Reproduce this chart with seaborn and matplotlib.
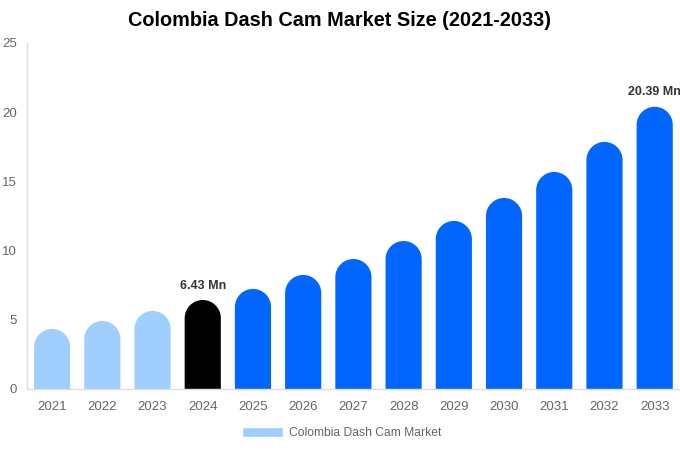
import matplotlib
matplotlib.use("Agg")
import matplotlib.pyplot as plt
import seaborn as sns
import pandas as pd
from matplotlib.path import Path
from matplotlib.patches import PathPatch, Patch

years = ["2021", "2022", "2023", "2024", "2025", "2026", "2027",
         "2028", "2029", "2030", "2031", "2032", "2033"]
values = [4.34, 4.91, 5.64, 6.43, 7.23, 8.24, 9.39, 10.69, 12.14, 13.8, 15.68, 17.85, 20.39]
colors = ["#a0cfff"] * 3 + ["#000000"] + ["#0066ff"] * 9
labeled = {"2024": "6.43 Mn", "2033": "20.39 Mn"}

df = pd.DataFrame({"year": years, "value": values})

sns.set_style("white")
plt.rcParams["font.family"] = ["Liberation Sans", "DejaVu Sans"]

fig = plt.figure(figsize=(6.8, 4.5), dpi=100)
ax = fig.add_axes([0.0397, 0.1356, 0.96, 0.769])

sns.barplot(data=df, x="year", y="value", hue="year", palette=colors,
            width=0.72, legend=False, ax=ax, saturation=1)
ax.set_ylim(0, 25)
ax.set_xlim(-0.5, len(years) - 0.5)

# turn each bar into a rounded-top bar
fig.canvas.draw()
ppu_x = ax.transData.transform((1, 0))[0] - ax.transData.transform((0, 0))[0]
ppu_y = ax.transData.transform((0, 1))[1] - ax.transData.transform((0, 0))[1]
k = 0.5523
for p in list(ax.patches):
    x0, w, h = p.get_x(), p.get_width(), p.get_height()
    rx = w / 2
    ry = rx * ppu_x / ppu_y
    x1, xc, top = x0 + w, x0 + rx, h
    yb = top - ry
    verts = [(x0, 0), (x1, 0), (x1, yb),
             (x1, yb + k * ry), (xc + k * rx, top), (xc, top),
             (xc - k * rx, top), (x0, yb + k * ry), (x0, yb),
             (x0, 0)]
    codes = [Path.MOVETO, Path.LINETO, Path.LINETO,
             Path.CURVE4, Path.CURVE4, Path.CURVE4,
             Path.CURVE4, Path.CURVE4, Path.CURVE4,
             Path.CLOSEPOLY]
    ax.add_patch(PathPatch(Path(verts, codes), facecolor=p.get_facecolor(),
                           edgecolor="none"))
    p.set_visible(False)

for i, (yr, v) in enumerate(zip(years, values)):
    if yr in labeled:
        ax.annotate(labeled[yr], (i, v), xytext=(0, 6), textcoords="offset points",
                    ha="center", va="bottom", fontsize=9, fontweight="bold",
                    color="#333333")

ax.set_yticks([0, 5, 10, 15, 20, 25])
ax.set_xlabel("")
ax.set_ylabel("")
ax.tick_params(axis="both", colors="#666666", labelsize=9.5, length=0)
ax.tick_params(axis="x", pad=9)
ax.tick_params(axis="y", pad=7.5)
for side in ["top", "right"]:
    ax.spines[side].set_visible(False)
for side in ["left", "bottom"]:
    ax.spines[side].set_color("#dddddd")
    ax.spines[side].set_linewidth(1)
ax.grid(False)

fig.suptitle("Colombia Dash Cam Market Size (2021-2033)", fontsize=14.3,
             fontweight="bold", color="black", x=0.5, y=0.975)

fig.legend(handles=[Patch(facecolor="#a0cfff", label="Colombia Dash Cam Market")],
           loc="center", bbox_to_anchor=(0.502, 0.038), frameon=False,
           fontsize=8.7, labelcolor="#666666", handlelength=3.4,
           handleheight=0.9, handletextpad=0.5)

fig.savefig("out.png", dpi=100)
